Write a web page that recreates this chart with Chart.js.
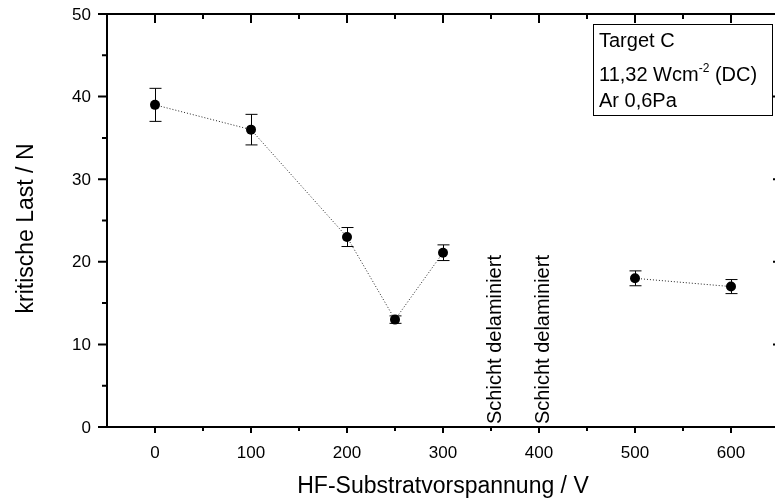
<!DOCTYPE html>
<html>
<head>
<meta charset="utf-8">
<script src="https://cdn.jsdelivr.net/npm/chart.js@4.4.0/dist/chart.umd.min.js"></script>
<style>
    html, body { margin: 0; padding: 0; background: #fff; overflow: hidden; }
    #wrap { width: 775px; height: 501px; overflow: hidden; }
    canvas { display: block; }
</style>
</head>
<body>
<div id="wrap"><canvas id="lastChart" width="785" height="501"></canvas></div>
<script>
const FONT = "'Liberation Sans', Arial, sans-serif";

// --- Messwerte: kritische Last über HF-Substratvorspannung ---
const biasVoltages = [0, 100, 200, 250, 300, 350, 400, 500, 600];
const criticalLoads = [39, 36, 23, 13, 21.1, null, null, 18, 17];
const loadErrors = [2, 1.85, 1.15, 0.45, 0.95, null, null, 0.9, 0.85];
const delaminatedAt = [350, 400];
const delaminatedText = 'Schicht delaminiert';

// Achsen
const xTicks = [0, 100, 200, 300, 400, 500, 600];
const xMinorTicks = [50, 150, 250, 350, 450, 550];
const yTicks = [0, 10, 20, 30, 40, 50];
const yMinorTicks = [5, 15, 25, 35, 45];
const xTitle = 'HF-Substratvorspannung / V';
const yTitle = 'kritische Last / N';

// Beschriftungskasten
const infoLines = ['Target C', '11,32 Wcm|-2| (DC)', 'Ar 0,6Pa'];

const points = biasVoltages.map((v, i) => ({ x: v, y: criticalLoads[i] }));

// Rahmen, Ticks, Fehlerbalken und Texte im Origin-Stil
const originFrame = {
    id: 'originFrame',
    beforeDatasetsDraw(chart) {
        const ctx = chart.ctx;
        const xs = chart.scales.x, ys = chart.scales.y;
        ctx.save();
        ctx.strokeStyle = '#000';
        ctx.lineWidth = 1;
        biasVoltages.forEach((v, i) => {
            if (criticalLoads[i] === null) return;
            const px = Math.round(xs.getPixelForValue(v)) + 0.5;
            const top = ys.getPixelForValue(criticalLoads[i] + loadErrors[i]);
            const bot = ys.getPixelForValue(criticalLoads[i] - loadErrors[i]);
            ctx.beginPath();
            ctx.moveTo(px, top); ctx.lineTo(px, bot);
            ctx.moveTo(px - 6, top); ctx.lineTo(px + 6, top);
            ctx.moveTo(px - 6, bot); ctx.lineTo(px + 6, bot);
            ctx.stroke();
        });
        ctx.restore();
    },
    afterDatasetsDraw(chart) {
        const ctx = chart.ctx;
        const a = chart.chartArea;
        const xs = chart.scales.x, ys = chart.scales.y;
        ctx.save();
        ctx.strokeStyle = '#000';
        ctx.fillStyle = '#000';

        // Rahmen
        ctx.lineWidth = 2;
        ctx.strokeRect(a.left, a.top, a.right - a.left, a.bottom - a.top);

        // Ticks
        ctx.lineWidth = 2;
        ctx.beginPath();
        xTicks.forEach(v => {
            const px = xs.getPixelForValue(v);
            ctx.moveTo(px, a.bottom); ctx.lineTo(px, a.bottom + 6);
            ctx.moveTo(px, a.top); ctx.lineTo(px, a.top + 9);
        });
        xMinorTicks.forEach(v => {
            const px = xs.getPixelForValue(v);
            ctx.moveTo(px, a.bottom); ctx.lineTo(px, a.bottom + 4);
            ctx.moveTo(px, a.top); ctx.lineTo(px, a.top + 5);
        });
        yTicks.forEach(v => {
            const py = ys.getPixelForValue(v);
            ctx.moveTo(a.left, py); ctx.lineTo(a.left - 9, py);
            ctx.moveTo(a.right, py); ctx.lineTo(a.right - 6, py);
        });
        yMinorTicks.forEach(v => {
            const py = ys.getPixelForValue(v);
            ctx.moveTo(a.left, py); ctx.lineTo(a.left - 5, py);
            ctx.moveTo(a.right, py); ctx.lineTo(a.right - 4, py);
        });
        ctx.stroke();

        // Tick-Beschriftung
        ctx.font = '17px ' + FONT;
        ctx.textAlign = 'center';
        ctx.textBaseline = 'alphabetic';
        xTicks.forEach(v => ctx.fillText(String(v), xs.getPixelForValue(v), a.bottom + 31));
        ctx.textAlign = 'right';
        ctx.textBaseline = 'middle';
        yTicks.forEach(v => ctx.fillText(String(v), a.left - 16, ys.getPixelForValue(v) + 1));

        // Achsentitel
        ctx.font = '23px ' + FONT;
        ctx.textAlign = 'center';
        ctx.textBaseline = 'alphabetic';
        ctx.fillText(xTitle, (a.left + a.right) / 2, a.bottom + 66);
        ctx.save();
        ctx.translate(33, (a.top + a.bottom) / 2 + 8);
        ctx.rotate(-Math.PI / 2);
        ctx.fillText(yTitle, 0, 0);
        ctx.restore();

        // Delaminierte Proben
        ctx.font = '20px ' + FONT;
        ctx.textAlign = 'left';
        delaminatedAt.forEach(v => {
            ctx.save();
            ctx.translate(xs.getPixelForValue(v) + 10, a.bottom - 3);
            ctx.rotate(-Math.PI / 2);
            ctx.fillText(delaminatedText, 0, 0);
            ctx.restore();
        });

        // Info-Kasten
        const bx = a.right - 186, by = a.top + 10, bw = 179, bh = 91;
        ctx.fillStyle = '#fff';
        ctx.fillRect(bx, by, bw, bh);
        ctx.lineWidth = 1;
        ctx.strokeRect(bx + 0.5, by + 0.5, bw, bh);
        ctx.fillStyle = '#000';
        const baselines = [23, 57, 83];
        infoLines.forEach((line, i) => {
            let x = bx + 6;
            const y = by + baselines[i];
            line.split('|').forEach((part, k) => {
                const sup = k % 2 === 1;
                ctx.font = (sup ? '12px ' : '20px ') + FONT;
                ctx.fillText(part, x, sup ? y - 9 : y);
                x += ctx.measureText(part).width;
            });
        });
        ctx.restore();
    }
};

new Chart(document.getElementById('lastChart'), {
    type: 'line',
    data: {
        datasets: [{
            data: points,
            borderColor: '#222',
            borderWidth: 1,
            borderDash: [1, 2],
            spanGaps: false,
            pointRadius: 5,
            pointBackgroundColor: '#000',
            pointBorderWidth: 0,
            tension: 0
        }]
    },
    options: {
        responsive: false,
        animation: false,
        layout: { padding: { left: 107, right: 6, top: 14, bottom: 74 } },
        plugins: { legend: { display: false }, tooltip: { enabled: false } },
        scales: {
            x: { type: 'linear', min: -50, max: 650, display: false },
            y: { min: 0, max: 50, display: false }
        }
    },
    plugins: [originFrame]
});
</script>
</body>
</html>
